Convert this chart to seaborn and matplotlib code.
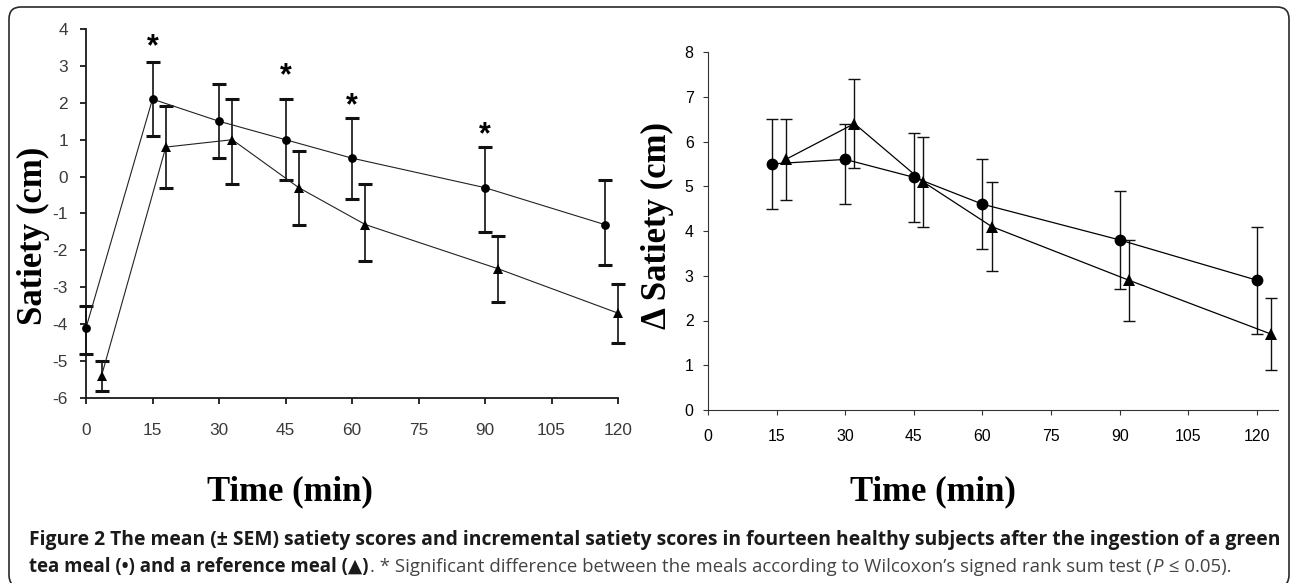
import matplotlib
matplotlib.use("Agg")
import matplotlib.pyplot as plt
import seaborn as sns
import pandas as pd
from matplotlib.patches import FancyBboxPatch
from matplotlib.transforms import IdentityTransform
from matplotlib import font_manager

# ---------------- data ----------------
# Left panel: satiety scores (cm)
left_tea_time = [0, 15, 30, 45, 60, 90, 117]
left_tea_mean = [-4.1, 2.1, 1.5, 1.0, 0.5, -0.3, -1.3]
left_tea_low = [-4.8, 1.1, 0.5, -0.1, -0.6, -1.5, -2.4]
left_tea_high = [-3.5, 3.1, 2.5, 2.1, 1.6, 0.8, -0.1]

left_ref_time = [3.5, 18, 33, 48, 63, 93, 120]
left_ref_mean = [-5.4, 0.8, 1.0, -0.3, -1.3, -2.5, -3.7]
left_ref_low = [-5.8, -0.3, -0.2, -1.3, -2.3, -3.4, -4.5]
left_ref_high = [-5.0, 1.9, 2.1, 0.7, -0.2, -1.6, -2.9]

star_time = [15, 45, 60, 90]
star_y = [3.7, 2.9, 2.1, 1.3]

# Right panel: incremental satiety (cm)
right_tea_time = [14, 30, 45, 60, 90, 120]
right_tea_mean = [5.5, 5.6, 5.2, 4.6, 3.8, 2.9]
right_tea_low = [4.5, 4.6, 4.2, 3.6, 2.7, 1.7]
right_tea_high = [6.5, 6.4, 6.2, 5.6, 4.9, 4.1]

right_ref_time = [17, 32, 47, 62, 92, 123]
right_ref_mean = [5.6, 6.4, 5.1, 4.1, 2.9, 1.7]
right_ref_low = [4.7, 5.4, 4.1, 3.1, 2.0, 0.9]
right_ref_high = [6.5, 7.4, 6.1, 5.1, 3.8, 2.5]

x_ticks = [0, 15, 30, 45, 60, 75, 90, 105, 120]
left_yticks = [-6, -5, -4, -3, -2, -1, 0, 1, 2, 3, 4]
right_yticks = [0, 1, 2, 3, 4, 5, 6, 7, 8]

xlabel_text = "Time (min)"
left_ylabel = "Satiety (cm)"
right_ylabel = "\u0394 Satiety (cm)"

caption_line1 = ("Figure 2 The mean (\u00b1 SEM) satiety scores and incremental satiety scores "
                 "in fourteen healthy subjects after the ingestion of a green")
caption_bold2 = "tea meal (\u2022) and a reference meal (\u25b2)"
caption_norm2 = (". * Significant difference between the meals according to "
                 "Wilcoxon\u2019s signed rank sum test (")
caption_ital2 = "P"
caption_end2 = " \u2264 0.05)."

# ---------------- style ----------------
sns.set_style("white")
plt.rcParams["font.family"] = ["Liberation Sans", "DejaVu Sans"]
plt.rcParams["axes.unicode_minus"] = False

installed = {f.name for f in font_manager.fontManager.ttflist}
narrow = "Liberation Sans Narrow" in installed

W, H = 1290, 583
fig = plt.figure(figsize=(W / 100, H / 100), dpi=100)
fig.patch.set_facecolor("white")


def ax_rect(x0, x1, ytop, ybot):
    return [x0 / W, (H - ybot) / H, (x1 - x0) / W, (ybot - ytop) / H]


axL = fig.add_axes(ax_rect(86, 618, 29, 398))
axR = fig.add_axes(ax_rect(708, 1278, 52, 410))

serif = ["Liberation Serif", "DejaVu Serif"]

# ---------------- left panel ----------------
dfLt = pd.DataFrame({"t": left_tea_time, "v": left_tea_mean})
dfLr = pd.DataFrame({"t": left_ref_time, "v": left_ref_mean})
axL.errorbar(left_tea_time, left_tea_mean,
             yerr=[[m - l for m, l in zip(left_tea_mean, left_tea_low)],
                   [h - m for m, h in zip(left_tea_mean, left_tea_high)]],
             fmt="none", ecolor="#111111", elinewidth=1.2, capsize=5, capthick=2.2,
             clip_on=False, zorder=3)
axL.errorbar(left_ref_time, left_ref_mean,
             yerr=[[m - l for m, l in zip(left_ref_mean, left_ref_low)],
                   [h - m for m, h in zip(left_ref_mean, left_ref_high)]],
             fmt="none", ecolor="#111111", elinewidth=1.2, capsize=5, capthick=2.2,
             clip_on=False, zorder=3)
sns.lineplot(data=dfLt, x="t", y="v", ax=axL, color="#222222", linewidth=0.8,
             marker="o", markersize=6.3, markeredgewidth=0, markerfacecolor="black",
             sort=False, estimator=None, clip_on=False, zorder=4)
sns.lineplot(data=dfLr, x="t", y="v", ax=axL, color="#222222", linewidth=0.8,
             marker="^", markersize=7, markeredgewidth=0, markerfacecolor="black",
             sort=False, estimator=None, clip_on=False, zorder=4)
for sx, sy in zip(star_time, star_y):
    axL.annotate("*", xy=(sx, sy), xytext=(0, -7), textcoords="offset pixels",
                 ha="center", va="center", fontsize=22, fontweight="bold",
                 color="black", family=["Liberation Sans", "DejaVu Sans"])

axL.set_xlim(0, 120)
axL.set_ylim(-6, 4)
axL.set_xticks(x_ticks)
axL.set_yticks(left_yticks)
axL.set_xticklabels([str(v) for v in x_ticks])
axL.set_yticklabels([str(v) for v in left_yticks])
for s in ["top", "right"]:
    axL.spines[s].set_visible(False)
for s in ["left", "bottom"]:
    axL.spines[s].set_color("#1a1a1a")
    axL.spines[s].set_linewidth(1.3)
axL.tick_params(axis="both", direction="out", length=4.3, width=1.3, colors="#1a1a1a",
                labelcolor="#3a3a3a", labelsize=12.4, left=True, bottom=True)
axL.tick_params(axis="y", pad=8.6)
axL.tick_params(axis="x", pad=13.5)
axL.set_xlabel(xlabel_text, family=serif, fontweight="bold", fontsize=25, color="black")
axL.set_ylabel(left_ylabel, family=serif, fontweight="bold", fontsize=25, color="black")
axL.xaxis.set_label_coords(0.384, -0.2547)
axL.yaxis.set_label_coords(-0.0995, 0.439)
axL.xaxis.label.set_va("center")
axL.yaxis.label.set_va("center")
axL.set_facecolor("none")

# ---------------- right panel ----------------
dfRt = pd.DataFrame({"t": right_tea_time, "v": right_tea_mean})
dfRr = pd.DataFrame({"t": right_ref_time, "v": right_ref_mean})
axR.errorbar(right_tea_time, right_tea_mean,
             yerr=[[m - l for m, l in zip(right_tea_mean, right_tea_low)],
                   [h - m for m, h in zip(right_tea_mean, right_tea_high)]],
             fmt="none", ecolor="#111111", elinewidth=1.0, capsize=4.2, capthick=1.0,
             clip_on=False, zorder=3)
axR.errorbar(right_ref_time, right_ref_mean,
             yerr=[[m - l for m, l in zip(right_ref_mean, right_ref_low)],
                   [h - m for m, h in zip(right_ref_mean, right_ref_high)]],
             fmt="none", ecolor="#111111", elinewidth=1.0, capsize=4.2, capthick=1.0,
             clip_on=False, zorder=3)
sns.lineplot(data=dfRt, x="t", y="v", ax=axR, color="black", linewidth=0.9,
             marker="o", markersize=8.5, markeredgewidth=0, markerfacecolor="black",
             sort=False, estimator=None, clip_on=False, zorder=4)
sns.lineplot(data=dfRr, x="t", y="v", ax=axR, color="black", linewidth=0.9,
             marker="^", markersize=9, markeredgewidth=0, markerfacecolor="black",
             sort=False, estimator=None, clip_on=False, zorder=4)

axR.set_xlim(0, 124.6)
axR.set_ylim(0, 8)
axR.set_xticks(x_ticks)
axR.set_yticks(right_yticks)
axR.set_xticklabels([str(v) for v in x_ticks])
axR.set_yticklabels([str(v) for v in right_yticks])
for s in ["top", "right"]:
    axR.spines[s].set_visible(False)
for s in ["left", "bottom"]:
    axR.spines[s].set_color("#333333")
    axR.spines[s].set_linewidth(0.8)
tick_family = ["Liberation Sans Narrow"] if narrow else ["Liberation Sans"]
tick_size = 12.8 if narrow else 11.4
axR.tick_params(axis="both", direction="out", length=3.6, width=0.8, colors="#333333",
                labelcolor="black", labelsize=tick_size, left=True, bottom=True)
axR.tick_params(axis="y", pad=6.8)
axR.tick_params(axis="x", pad=10)
for lab in axR.get_xticklabels() + axR.get_yticklabels():
    lab.set_family(tick_family)
axR.set_xlabel(xlabel_text, family=serif, fontweight="bold", fontsize=25, color="black")
axR.set_ylabel(right_ylabel, family=serif, fontweight="bold", fontsize=25, color="black")
axR.xaxis.set_label_coords(0.395, -0.229)
axR.yaxis.set_label_coords(-0.0895, 0.514)
axR.xaxis.label.set_va("center")
axR.yaxis.label.set_va("center")
axR.set_facecolor("none")

# ---------------- frame ----------------
frame = FancyBboxPatch((9, -4), 1280, 580, boxstyle="round,pad=0,rounding_size=12",
                       transform=IdentityTransform(), facecolor="none",
                       edgecolor="#2a2a2a", linewidth=1.2, zorder=0)
fig.patches.append(frame)

# ---------------- caption ----------------
cap_family = ["Open Sans", "DejaVu Sans"]
renderer = fig.canvas.get_renderer()
probe = fig.text(0, 0, caption_line1, fontsize=10, fontweight="bold", family=cap_family)
wprobe = probe.get_window_extent(renderer).width
probe.remove()
cap_size = 10 * 1248 / wprobe

x0 = 29
fig.text(x0 / W, 1 - 545 / H, caption_line1, fontsize=cap_size, fontweight="bold",
         family=cap_family, color="#1a1a1a", ha="left", va="baseline")

runs = [
    (caption_bold2, dict(fontweight="bold", color="#1a1a1a")),
    (caption_norm2, dict(fontweight="normal", color="#444444")),
    (caption_ital2, dict(fontweight="normal", style="italic", color="#444444")),
    (caption_end2, dict(fontweight="normal", color="#444444")),
]


def line2_width(size):
    total = 0
    for txt, kw in runs:
        t = fig.text(0, 0, txt, fontsize=size, family=cap_family, **kw)
        total += t.get_window_extent(renderer).width + 1
        t.remove()
    return total


size2 = cap_size * (1238 - x0) / line2_width(cap_size)
x = x0
for txt, kw in runs:
    t = fig.text(x / W, 1 - 572 / H, txt, fontsize=size2, family=cap_family,
                 ha="left", va="baseline", **kw)
    x += t.get_window_extent(renderer).width + 1

fig.savefig("out.png", dpi=100, facecolor="white")
